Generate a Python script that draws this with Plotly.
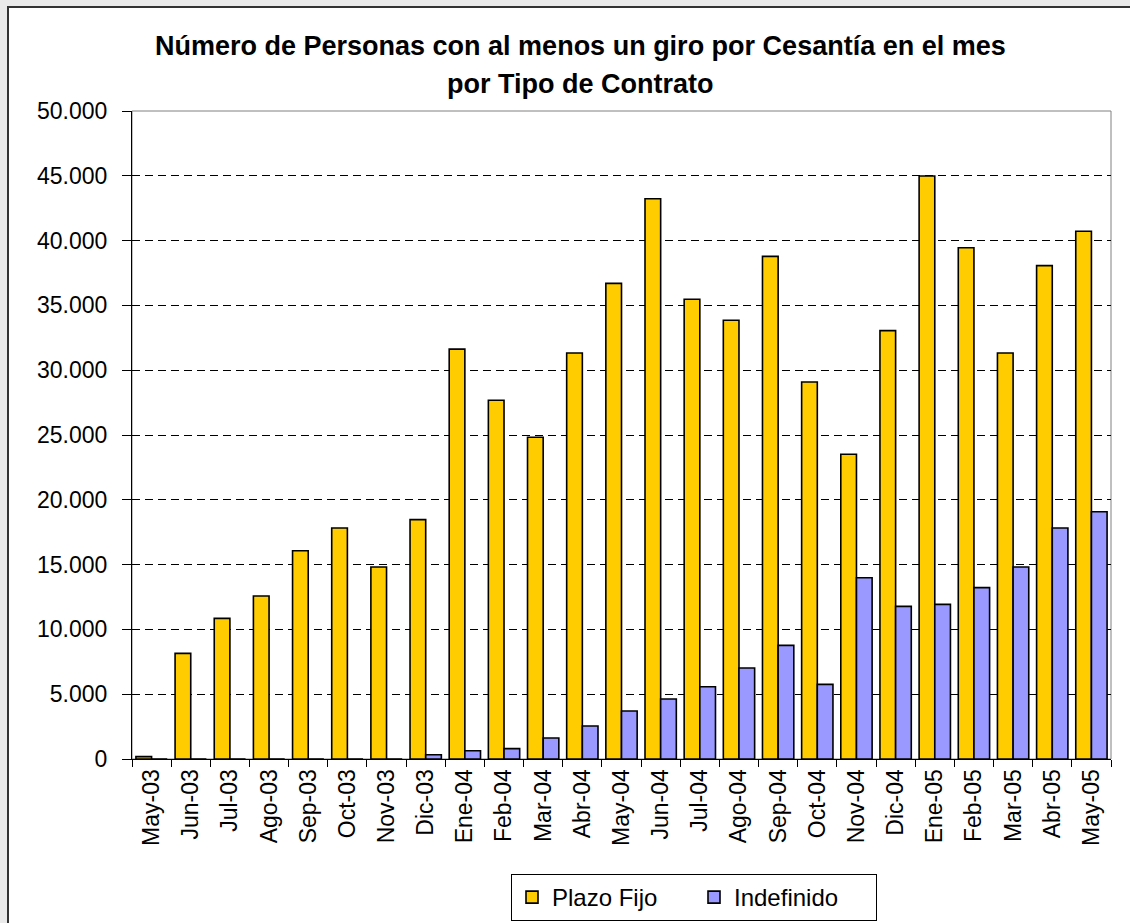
"""Personas con giro por Cesantía, por tipo de contrato (bar chart)."""

import plotly.graph_objects as go

# ---------------------------------------------------------------------------
# Data
# ---------------------------------------------------------------------------

months = [
    "May-03", "Jun-03", "Jul-03", "Ago-03", "Sep-03", "Oct-03", "Nov-03",
    "Dic-03", "Ene-04", "Feb-04", "Mar-04", "Abr-04", "May-04", "Jun-04",
    "Jul-04", "Ago-04", "Sep-04", "Oct-04", "Nov-04", "Dic-04", "Ene-05",
    "Feb-05", "Mar-05", "Abr-05", "May-05",
]

plazo_fijo = [
    180, 8150, 10850, 12580, 16070, 17820, 14810,
    18470, 31630, 27680, 24830, 31330, 36700, 43230,
    35470, 33850, 38780, 29090, 23520, 33050, 44980,
    39450, 31330, 38070, 40720,
]

indefinido = [
    0, 0, 0, 0, 0, 0, 0,
    330, 640, 800, 1620, 2550, 3700, 4630,
    5580, 7020, 8770, 5760, 13990, 11780, 11930,
    13220, 14810, 17820, 19080,
]

title_lines = [
    "Número de Personas con al menos un giro por Cesantía en el mes",
    "por Tipo de Contrato",
]

# ---------------------------------------------------------------------------
# Figure
# ---------------------------------------------------------------------------

W, H = 1130, 923
L, R, T, B = 132, 19, 111, 164
pw, ph = W - L - R, H - T - B


def px_x(x):
    return (x - L) / pw


def px_y(y):
    return (H - B - y) / ph


FONT = "Liberation Sans, Arial, sans-serif"

fig = go.Figure()

fig.add_trace(go.Bar(
    x=months, y=plazo_fijo, name="Plazo Fijo",
    marker=dict(color="#FFCC00", line=dict(color="black", width=1.6)),
))
fig.add_trace(go.Bar(
    x=months, y=indefinido, name="Indefinido",
    marker=dict(color="#9999FF", line=dict(color="black", width=1.6)),
))

# outer chart frame and plot-area border
fig.add_shape(
    type="rect", xref="paper", yref="paper", layer="below",
    x0=px_x(8), x1=px_x(1200), y0=px_y(1000), y1=px_y(7),
    fillcolor="white", line=dict(color="#333333", width=2),
)
fig.add_shape(
    type="rect", xref="paper", yref="paper", layer="below",
    x0=0, x1=1, y0=0, y1=1,
    line=dict(color="#808080", width=1),
)

# two-line bold title
for text, y_mid in zip(title_lines, [46, 84]):
    fig.add_annotation(
        text=f"<b>{text}</b>", xref="paper", yref="paper",
        x=px_x(580), y=px_y(y_mid), xanchor="center", yanchor="middle",
        showarrow=False, font=dict(family=FONT, size=27, color="black"),
    )

fig.update_layout(
    width=W, height=H,
    margin=dict(l=L, r=R, t=T, b=B, autoexpand=False),
    paper_bgcolor="#EAEAEA",
    plot_bgcolor="rgba(0,0,0,0)",
    separators=",.",
    font=dict(family=FONT, size=22, color="black"),
    barmode="group",
    bargap=0.2,
    bargroupgap=0,
    showlegend=True,
    legend=dict(
        orientation="h",
        x=px_x(694), xanchor="center",
        y=px_y(874), yanchor="top",
        bgcolor="white", bordercolor="black", borderwidth=1,
        font=dict(family=FONT, size=24),
        entrywidth=137,
    ),
    xaxis=dict(
        type="category", automargin=False,
        showline=True, linecolor="black", linewidth=1,
        ticks="outside", tickson="boundaries", ticklen=7,
        tickcolor="black", tickangle=-90,
        tickfont=dict(family=FONT, size=23),
        showgrid=False,
    ),
    yaxis=dict(
        automargin=False,
        range=[0, 50000], dtick=5000, tickformat=",",
        showline=True, linecolor="black", linewidth=1,
        ticks="outside", ticklen=9, tickcolor="black",
        ticklabelstandoff=10,
        tickfont=dict(family=FONT, size=23),
        showgrid=True, gridcolor="black", gridwidth=1,
        griddash="8px,5px",
        zeroline=False,
    ),
)

fig.write_html(
    "out.html",
    config={"displayModeBar": False},
    post_script="document.body.style.margin='0px';",
)
